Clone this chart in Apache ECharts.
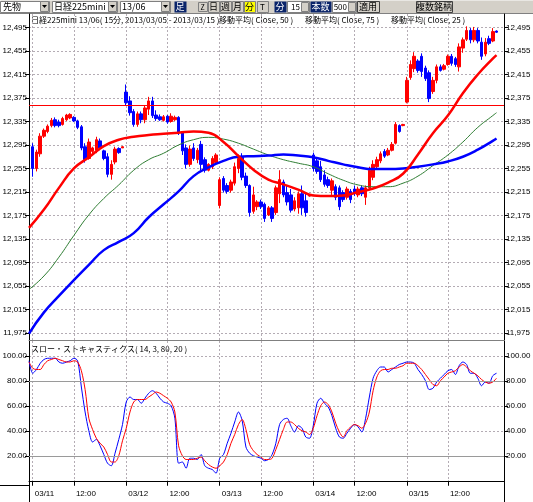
<!DOCTYPE html>
<html>
<head>
<meta charset="utf-8">
<script src="https://cdn.jsdelivr.net/npm/echarts@6/dist/echarts.min.js"></script>
<style>
  html, body { margin: 0; padding: 0; background: #fff; }
  #chart { width: 533px; height: 502px; }
</style>
</head>
<body>
<div id="chart"></div>
<script>
// 15分足: 03/08 最終足 + 5日 x 25本 + 空き2本
var days = ['03/11', '03/12', '03/13', '03/14', '03/15']
var barsPerDay = 25

// tick labels of the time axis (index into the bar list)
var timeTickIdx = [1, 12, 26, 37, 51, 62, 76, 87, 101, 112]
var timeTickText = ['03/11', '12:00', '03/12', '12:00', '03/13', '12:00', '03/14', '12:00', '03/15', '12:00']

// price axis ticks
var priceTicks = [11975, 12015, 12055, 12095, 12135, 12175, 12215, 12255, 12295, 12335, 12375, 12415, 12455, 12495]
var stochTicks = [20, 40, 60, 80, 100]
var stochBands = [80, 20]

// OHLC (index 0 = 03/08 15:15, no candle shown)
var open = [null,
  12292, 12255, 12280, 12310, 12318, 12328, 12338, 12334, 12330, 12338, 12341, 12342, 12336, 12326, 12292, 12272, 12284, 12286, 12302, 12285, 12275, 12245, 12266, 12289, 12290,
  12385, 12370, 12352, 12330, 12348, 12338, 12356, 12370, 12346, 12343, 12337, 12344, 12335, 12338, 12342, 12316, 12290, 12262, 12290, 12270, 12296, 12270, 12252, 12258, 12265,
  12192, 12238, 12226, 12218, 12230, 12255, 12274, 12242, 12226, 12182, 12190, 12198, 12194, 12176, 12188, 12180, 12212, 12232, 12214, 12210, 12186, 12188, 12212, 12200, 12208,
  12278, 12268, 12258, 12244, 12236, 12218, 12224, 12222, 12214, 12206, 12216, 12220, 12210, 12222, 12206, 12222, 12240, 12258, 12268, 12284, 12278, 12286, 12298, 12328, 12328,
  12368, 12410, 12425, 12438, 12446, 12426, 12418, 12386, 12405, 12428, 12424, 12432, 12446, 12442, 12428, 12460, 12475, 12490, 12474, 12490, 12470, 12450, 12476, 12472, 12489]
var close = [null,
  12255, 12283, 12310, 12320, 12327, 12337, 12328, 12328, 12340, 12346, 12347, 12336, 12325, 12290, 12270, 12300, 12290, 12304, 12290, 12272, 12245, 12262, 12288, 12282, 12292,
  12367, 12350, 12330, 12348, 12338, 12358, 12370, 12345, 12340, 12338, 12343, 12334, 12344, 12342, 12316, 12285, 12262, 12288, 12272, 12286, 12262, 12252, 12262, 12272, 12278,
  12236, 12218, 12216, 12232, 12258, 12272, 12240, 12226, 12180, 12210, 12198, 12190, 12170, 12188, 12170, 12222, 12236, 12210, 12198, 12184, 12200, 12212, 12188, 12180, 12210,
  12255, 12250, 12236, 12228, 12226, 12234, 12206, 12190, 12202, 12220, 12202, 12212, 12220, 12212, 12222, 12252, 12262, 12270, 12280, 12276, 12286, 12296, 12330, 12318, 12330,
  12405, 12432, 12446, 12422, 12420, 12408, 12374, 12405, 12428, 12422, 12430, 12446, 12434, 12432, 12462, 12474, 12490, 12474, 12490, 12472, 12446, 12470, 12468, 12488, 12487]
var low = [null,
  12241, 12250, 12275, 12307, 12315, 12325, 12325, 12325, 12328, 12336, 12339, 12334, 12322, 12286, 12265, 12270, 12281, 12281, 12286, 12269, 12240, 12236, 12262, 12280, 12290,
  12362, 12345, 12326, 12326, 12332, 12332, 12346, 12341, 12336, 12336, 12335, 12331, 12333, 12336, 12312, 12278, 12255, 12258, 12268, 12264, 12252, 12248, 12250, 12254, 12262,
  12187, 12214, 12212, 12214, 12226, 12247, 12235, 12222, 12173, 12178, 12184, 12186, 12164, 12174, 12164, 12176, 12196, 12206, 12192, 12180, 12182, 12178, 12176, 12173, 12207,
  12250, 12246, 12232, 12224, 12222, 12210, 12201, 12184, 12198, 12202, 12196, 12208, 12206, 12208, 12193, 12218, 12235, 12254, 12264, 12273, 12276, 12284, 12296, 12316, 12327,
  12366, 12406, 12419, 12418, 12411, 12404, 12368, 12382, 12400, 12420, 12422, 12430, 12430, 12428, 12420, 12452, 12472, 12468, 12470, 12468, 12440, 12446, 12465, 12470, 12486]
var high = [null,
  12298, 12287, 12315, 12323, 12330, 12341, 12342, 12338, 12343, 12348, 12349, 12344, 12338, 12329, 12298, 12306, 12292, 12309, 12306, 12287, 12281, 12269, 12292, 12291, 12293,
  12398, 12378, 12356, 12352, 12352, 12363, 12377, 12377, 12354, 12347, 12346, 12346, 12349, 12345, 12344, 12318, 12296, 12294, 12298, 12290, 12302, 12274, 12264, 12276, 12281,
  12240, 12242, 12230, 12236, 12265, 12279, 12281, 12248, 12228, 12224, 12201, 12202, 12197, 12191, 12191, 12226, 12252, 12236, 12226, 12220, 12206, 12216, 12226, 12213, 12211,
  12282, 12272, 12268, 12252, 12241, 12238, 12228, 12226, 12218, 12224, 12220, 12226, 12224, 12226, 12226, 12258, 12269, 12275, 12284, 12288, 12290, 12300, 12334, 12330, 12331,
  12411, 12439, 12453, 12441, 12451, 12430, 12422, 12411, 12432, 12432, 12433, 12449, 12450, 12445, 12468, 12478, 12497, 12494, 12496, 12494, 12478, 12477, 12481, 12494, 12490]

// 移動平均 at every 4th bar: [bar index, value]
var ma25 = [[0, 12154], [4, 12185], [8, 12222], [12, 12255], [16, 12274], [20, 12293], [24, 12304], [28, 12309], [32, 12312], [36, 12314], [40, 12316], [44, 12318], [48, 12316], [52, 12300], [56, 12276], [60, 12253], [64, 12236], [68, 12228], [72, 12219], [76, 12209], [80, 12208], [84, 12209], [88, 12215], [92, 12221], [96, 12231], [100, 12246], [104, 12279], [108, 12315], [112, 12345], [116, 12383], [120, 12415], [124, 12442], [125, 12448]]
var ma50 = [[0, 12049], [4, 12072], [8, 12104], [12, 12141], [16, 12176], [20, 12204], [24, 12227], [28, 12252], [32, 12270], [36, 12281], [40, 12295], [44, 12304], [48, 12308], [52, 12305], [56, 12298], [60, 12288], [64, 12278], [68, 12270], [72, 12264], [76, 12258], [80, 12246], [84, 12235], [88, 12227], [92, 12224], [96, 12224], [100, 12230], [104, 12242], [108, 12260], [112, 12278], [116, 12300], [120, 12325], [124, 12345], [125, 12350]]
var ma75 = [[0, 11974], [4, 12010], [8, 12038], [12, 12065], [16, 12091], [20, 12116], [24, 12130], [28, 12145], [32, 12172], [36, 12194], [40, 12216], [44, 12242], [48, 12257], [52, 12268], [56, 12275], [60, 12276], [64, 12277], [68, 12279], [72, 12277], [76, 12274], [80, 12268], [84, 12262], [88, 12257], [92, 12254], [96, 12254], [100, 12255], [104, 12258], [108, 12262], [112, 12267], [116, 12275], [120, 12287], [124, 12302], [125, 12306]]

var markPrice = 12362

// スロー・ストキャスティクス (14, 3, 80, 20)
var stochK = [96, 86, 89, 94, 97, 98, 98, 98, 95, 94, 95, 96, 98, 96, 75, 55, 40, 31, 33, 28, 21, 14, 12, 22, 33, 45,
  63, 67, 65, 65, 62, 66, 70, 72, 70, 66, 63, 62, 60, 50, 14, 15, 10, 18, 18, 17, 21, 12, 10, 9, 6,
  18, 21, 30, 38, 47, 55, 48, 27, 22, 20, 19, 18, 16, 17, 21, 30, 45, 49, 50, 44, 39, 44, 42, 35, 34,
  44, 62, 66, 62, 59, 52, 42, 35, 34, 38, 42, 45, 43, 39, 50, 67, 82, 88, 91, 91, 87, 89, 91, 93, 94,
  95, 95, 94, 89, 85, 80, 73, 74, 79, 82, 85, 88, 89, 85, 92, 95, 93, 86, 86, 82, 76, 79, 78, 84, 86]
var stochD = [95, 90, 89, 89, 93, 96, 97, 98, 97, 96, 95, 95, 96, 95, 88, 73, 50, 41, 34, 30, 27, 21, 15, 15, 20, 32,
  42, 55, 63, 65, 65, 65, 67, 69, 71, 70, 68, 66, 63, 55, 28, 20, 17, 17, 17, 18, 19, 16, 13, 11, 10,
  12, 15, 21, 30, 37, 45, 49, 41, 29, 24, 21, 19, 17, 17, 18, 25, 33, 41, 47, 47, 45, 42, 40, 39, 37,
  42, 52, 60, 63, 61, 55, 46, 39, 35, 40, 43, 45, 44, 42, 46, 55, 72, 83, 88, 89, 89, 90, 90, 91, 92,
  94, 94, 94, 92, 89, 85, 81, 77, 76, 80, 83, 86, 87, 88, 91, 93, 91, 88, 86, 84, 81, 79, 78, 79, 82]

var cats = ['03/08 15:15']
days.forEach(function (d) {
  for (var k = 0; k < barsPerDay; k++) {
    var m = 9 * 60 + 15 + k * 15
    cats.push(d + ' ' + Math.floor(m / 60) + ':' + ('0' + m % 60).slice(-2))
  }
})
cats.push('03/15 15:30', '03/15 15:45')

var candles = cats.map(function (c, i) {
  return open[i] == null ? '-' : [open[i], close[i], low[i], high[i]]
})

function isTimeTick(i) { return timeTickIdx.indexOf(i) >= 0 }
function fmtPrice(v) { return String(v).replace(/\B(?=(\d{3})+(?!\d))/g, ',') }
function hLines(vals) { return vals.map(function (v) { return { yAxis: v } }) }

var gridCol = '#b4acb4'
var uiFont = '"Noto Sans CJK JP", sans-serif'
var numFont = '"Liberation Sans", sans-serif'

// toolbar pieces
function rect(x, y, w, h, fill, stroke) {
  return { type: 'rect', shape: { x: x + 0.5, y: y + 0.5, width: w, height: h }, style: { fill: fill, stroke: stroke || null, lineWidth: 1 }, silent: true }
}
function txt(x, y, s, color, align, size) {
  return { type: 'text', x: x, y: y, style: { text: s, fill: color || '#000', font: (size || 9) + 'px ' + uiFont, align: align || 'left', verticalAlign: 'middle' }, silent: true }
}
function ddArrow(x) {
  return [rect(x, 1, 8, 10, '#d4d0c8', '#808080'),
    { type: 'polygon', shape: { points: [[x + 2, 5], [x + 7, 5], [x + 4.5, 8]] }, style: { fill: '#000' }, silent: true }]
}

var navy = '#0a246a'
var toolbar = [
  rect(0, 0, 533, 13, '#d4d0c8'),
  { type: 'line', shape: { x1: 0, y1: 13.5, x2: 533, y2: 13.5 }, style: { stroke: '#808080' }, silent: true },
  rect(0, 1, 49, 11, '#fff', '#808080'), txt(3, 7, '先物')
].concat(ddArrow(40), [
  rect(52, 1, 65, 11, '#fff', '#808080'), txt(54, 7, '日経225mini')
], ddArrow(108), [
  rect(120, 1, 50, 11, '#fff', '#808080'), txt(122, 7, '13/06')
], ddArrow(161), [
  rect(174, 1, 12, 11, navy), txt(180, 7, '足', '#fff', 'center'),
  rect(198, 2, 9, 9, '#d4d0c8', '#808080'), txt(202.5, 7, 'Z', '#000', 'center', 7),
  rect(208, 1, 11, 11, '#d4d0c8', '#808080'), txt(213.5, 7, '日', '#000', 'center'),
  rect(220, 1, 11, 11, '#d4d0c8', '#808080'), txt(225.5, 7, '週', '#000', 'center'),
  rect(232, 1, 11, 11, '#d4d0c8', '#808080'), txt(237.5, 7, '月', '#000', 'center'),
  rect(244, 1, 11, 11, '#ffff00', '#808080'), txt(249.5, 7, '分', '#000', 'center'),
  rect(257, 1, 11, 11, '#d4d0c8', '#808080'), txt(262.5, 7, 'T', '#000', 'center', 8),
  rect(274, 1, 12, 11, navy), txt(280, 7, '分', '#fff', 'center'),
  rect(287, 1, 22, 11, '#fff', '#808080'), txt(300, 7, '15', '#000', 'right', 8),
  rect(301, 2, 7, 9, '#d4d0c8', '#808080'),
  rect(310, 1, 21, 11, navy), txt(320.5, 7, '本数', '#fff', 'center'),
  rect(332, 1, 24, 11, '#fff', '#808080'), txt(347, 7, '500', '#000', 'right', 8),
  rect(348, 2, 7, 9, '#d4d0c8', '#808080'),
  rect(357, 1, 22, 11, '#d4d0c8', '#404040'), txt(368, 7, '適用', '#000', 'center'),
  rect(416, 1, 36, 11, '#d4d0c8', '#404040'), txt(434, 7, '複数銘柄', '#000', 'center')
])

var titles = [
  txt(31, 20, '日経225mini 13/06( 15分, 2013/03/05 - 2013/03/15 )', '#000', 'left', 8),
  txt(219, 20, '移動平均( Close, 50 )', '#000', 'left', 8),
  txt(305, 20, '移動平均( Close, 75 )', '#000', 'left', 8),
  txt(391, 20, '移動平均( Close, 25 )', '#000', 'left', 8),
  txt(31, 349, 'スロー・ストキャスティクス( 14, 3, 80, 20 )', '#000', 'left', 8),
  // frame lines running past the lower plot
  { type: 'line', shape: { x1: 29.5, y1: 485, x2: 29.5, y2: 502 }, style: { stroke: '#000' }, silent: true },
  { type: 'line', shape: { x1: 504.5, y1: 485, x2: 504.5, y2: 502 }, style: { stroke: '#000' }, silent: true },
  { type: 'line', shape: { x1: 0, y1: 485.5, x2: 30, y2: 485.5 }, style: { stroke: '#000' }, silent: true }
]

var dashedGrid = { color: gridCol, type: [2, 2], width: 1 }

function priceAxis(pos, withGrid) {
  return {
    type: 'value', gridIndex: 0, position: pos, min: 11963, max: 12518, scale: true,
    axisLine: { show: true, lineStyle: { color: '#000' } },
    axisTick: { show: true, length: 4, customValues: priceTicks, lineStyle: { color: '#000' } },
    axisLabel: { customValues: priceTicks, formatter: fmtPrice, color: '#000', fontSize: 8, fontFamily: numFont, margin: 2 },
    splitLine: { show: withGrid, lineStyle: dashedGrid }
  }
}
function stochAxis(pos, withGrid) {
  return {
    type: 'value', gridIndex: 1, position: pos, min: -3.4, max: 111.8,
    axisLine: { show: true, lineStyle: { color: '#000' } },
    axisTick: { show: true, length: 4, customValues: stochTicks, lineStyle: { color: '#000' } },
    axisLabel: { customValues: stochTicks, formatter: function (v) { return v.toFixed(2) }, color: '#000', fontSize: 8, fontFamily: numFont, margin: 2 },
    splitLine: { show: withGrid, lineStyle: dashedGrid }
  }
}

var myChart = echarts.init(document.getElementById('chart'))
myChart.setOption({
  animation: false,
  backgroundColor: '#fff',
  graphic: toolbar.concat(titles),
  grid: [
    { left: 29, top: 14, width: 475, height: 326, outerBoundsMode: 'none' },
    { left: 29, top: 341, width: 475, height: 144, outerBoundsMode: 'none' }
  ],
  xAxis: [
    {
      type: 'category', gridIndex: 0, data: cats, boundaryGap: false,
      axisLine: { show: true, lineStyle: { color: '#808080' } },
      axisTick: { show: false }, axisLabel: { show: false },
      splitLine: { show: true, interval: function (i) { return isTimeTick(i) }, lineStyle: dashedGrid }
    },
    {
      type: 'category', gridIndex: 1, data: cats, boundaryGap: false,
      axisLine: { show: true, lineStyle: { color: '#000' } },
      axisTick: { show: true, length: 5, interval: function (i) { return isTimeTick(i) }, lineStyle: { color: '#000' } },
      axisLabel: {
        interval: function (i) { return isTimeTick(i) },
        formatter: function (v, i) { return timeTickText[timeTickIdx.indexOf(i)] },
        align: 'left', padding: [0, 0, 0, 2], margin: 5,
        color: '#000', fontSize: 8, fontFamily: numFont
      },
      splitLine: { show: true, interval: function (i) { return isTimeTick(i) }, lineStyle: dashedGrid }
    }
  ],
  yAxis: [priceAxis('left', true), priceAxis('right', false), stochAxis('left', true), stochAxis('right', false)],
  series: [
    { name: 'MA50', type: 'line', xAxisIndex: 0, yAxisIndex: 0, data: ma50, smooth: true, showSymbol: false, lineStyle: { color: '#2e7d32', width: 1 } },
    {
      name: '日経225mini', type: 'candlestick', xAxisIndex: 0, yAxisIndex: 0,
      data: candles, barWidth: 3,
      itemStyle: { color: '#ff0000', color0: '#0000ff', borderColor: '#ff0000', borderColor0: '#0000ff', borderWidth: 1 },
      markLine: {
        silent: true, symbol: 'none', label: { show: false },
        lineStyle: { color: '#ff0000', type: 'solid', width: 1 },
        data: [{ yAxis: markPrice }]
      }
    },
    { name: 'MA75', type: 'line', xAxisIndex: 0, yAxisIndex: 0, data: ma75, smooth: true, showSymbol: false, lineStyle: { color: '#0000ff', width: 2.5 } },
    { name: 'MA25', type: 'line', xAxisIndex: 0, yAxisIndex: 0, data: ma25, smooth: true, showSymbol: false, lineStyle: { color: '#ff0000', width: 2.5 } },
    {
      name: '%K', type: 'line', xAxisIndex: 1, yAxisIndex: 2, data: stochK, showSymbol: false, smooth: 0.3,
      lineStyle: { color: '#0000ff', width: 1 },
      markLine: {
        silent: true, symbol: 'none', label: { show: false },
        lineStyle: { color: '#9a9a9a', type: 'solid', width: 1 },
        data: hLines(stochBands)
      }
    },
    { name: '%D', type: 'line', xAxisIndex: 1, yAxisIndex: 2, data: stochD, showSymbol: false, smooth: 0.3, lineStyle: { color: '#ff0000', width: 1 } }
  ]
})
</script>
</body>
</html>
